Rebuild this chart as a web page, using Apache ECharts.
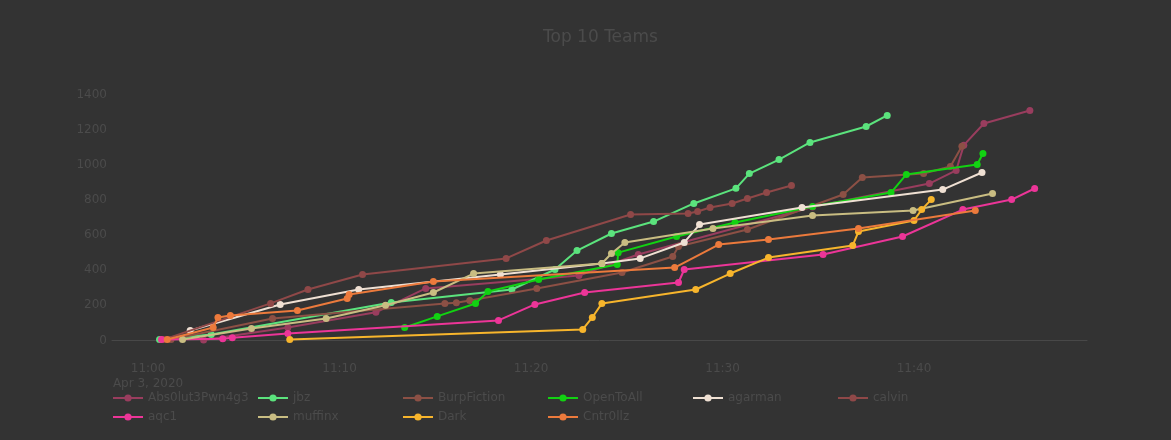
<!DOCTYPE html>
<html>
<head>
<meta charset="utf-8">
<script src="https://cdn.jsdelivr.net/npm/echarts@6/dist/echarts.min.js"></script>
<style>
html,body{margin:0;padding:0;background:#333333;}
#chart{width:1171px;height:440px;}
</style>
</head>
<body>
<div id="chart"></div>
<script>
// ---- data ----
const teamNames = ["Abs0lut3Pwn4g3","jbz","BurpFiction","OpenToAll","agarman","calvin","aqc1","muffinx","Dark","Cntr0llz"];
const teamColors = ["#993d5e","#5be37d","#8c5045","#12d212","#efe0d3","#8f4848","#ec3598","#c9bd82","#f7b52c","#ec7a3c"];

const abs0lut3Times = ["11:02:54","11:07:18","11:11:54","11:14:30","11:22:30","11:25:36","11:34:42","11:40:48","11:42:12","11:42:36","11:43:39","11:46:03"];
const abs0lut3Scores = [3,74,160,296,370,489,760,893,968,1112,1235,1309];

const jbzTimes = ["11:00:36","11:03:18","11:12:42","11:19:00","11:21:15","11:22:24","11:24:12","11:26:24","11:28:30","11:30:42","11:31:24","11:32:57","11:34:34","11:37:30","11:38:36"];
const jbzScores = [5,34,216,290,404,512,609,677,780,866,950,1030,1127,1218,1281];

const burpTimes = ["11:01:12","11:06:30","11:15:30","11:16:06","11:16:48","11:20:18","11:24:45","11:27:24","11:27:42","11:31:18","11:36:18","11:37:18","11:40:30","11:41:54","11:42:30"];
const burpScores = [5,125,210,215,228,296,387,478,535,632,831,928,950,990,1105];

const openTimes = ["11:13:24","11:15:06","11:17:06","11:17:45","11:20:24","11:24:30","11:24:33","11:27:36","11:30:39","11:34:42","11:38:48","11:39:36","11:43:18","11:43:36"];
const openScores = [74,137,210,279,347,432,500,592,672,763,842,945,1002,1064];

const agarmanTimes = ["11:02:12","11:06:54","11:11:00","11:18:24","11:23:42","11:25:42","11:28:00","11:28:48","11:34:09","11:41:30","11:43:33"];
const agarmanScores = [57,205,290,376,438,467,558,660,757,859,956];

const calvinTimes = ["11:00:48","11:06:24","11:08:21","11:11:12","11:18:42","11:20:48","11:25:12","11:28:12","11:28:42","11:29:21","11:30:30","11:31:18","11:32:18","11:33:36"];
const calvinScores = [5,211,290,376,467,569,717,723,734,757,780,808,842,882];

const aqc1Times = ["11:00:42","11:03:54","11:04:24","11:07:18","11:18:18","11:20:12","11:22:48","11:27:42","11:28:00","11:35:15","11:39:24","11:42:33","11:45:06","11:46:18"];
const aqc1Scores = [5,10,15,40,114,205,273,330,404,489,592,745,802,865];

const muffinxTimes = ["11:01:48","11:05:24","11:09:18","11:12:24","11:14:54","11:17:00","11:23:42","11:24:12","11:24:54","11:29:30","11:34:42","11:39:57","11:44:06"];
const muffinxScores = [6,68,125,200,273,381,438,495,558,637,711,740,837];

const darkTimes = ["11:07:24","11:22:42","11:23:12","11:23:42","11:28:36","11:30:24","11:32:24","11:36:48","11:37:06","11:40:00","11:40:24","11:40:54"];
const darkScores = [5,63,131,211,290,381,472,541,620,683,745,802];

const cntrTimes = ["11:01:00","11:03:24","11:03:39","11:04:18","11:07:48","11:10:24","11:10:30","11:14:54","11:27:30","11:29:48","11:32:24","11:37:06","11:43:12"];
const cntrScores = [5,74,131,142,171,239,262,336,415,546,575,637,740];

const dateLabel = "Apr 3, 2020";

// ---- build ----
const allTimes = [abs0lut3Times,jbzTimes,burpTimes,openTimes,agarmanTimes,calvinTimes,aqc1Times,muffinxTimes,darkTimes,cntrTimes];
const allScores = [abs0lut3Scores,jbzScores,burpScores,openScores,agarmanScores,calvinScores,aqc1Scores,muffinxScores,darkScores,cntrScores];

function toMin(s){const p=s.split(':').map(Number);return p[0]*60+p[1]+(p[2]||0)/60;}
function fmt(m){const h=Math.floor(m/60);const mm=Math.round(m-h*60);return h+':'+(mm<10?'0':'')+mm;}

const txt = '#4b4b4b';
const font = 'DejaVu Sans, Verdana, sans-serif';

const series = teamNames.map((n,i)=>({
  name:n, type:'line',
  data: allTimes[i].map((t,j)=>[toMin(t), allScores[i][j]]),
  symbol:'circle', symbolSize:7,
  lineStyle:{width:2,color:teamColors[i]},
  itemStyle:{color:teamColors[i]},
  emphasis:{disabled:true},
  z:2+i
}));

const colLeft=[112,257,402,547,692,837];
const rowTop=[392,411];
const legends = teamNames.map((n,i)=>({
  show:true, data:[n], orient:'horizontal',
  left: colLeft[i<6?i:i-6], top: rowTop[i<6?0:1],
  padding:0, itemWidth:30, itemHeight:9, itemGap:0,
  textStyle:{color:txt,fontSize:12,fontFamily:font},
  selectedMode:false
}));

const chart = echarts.init(document.getElementById('chart'),null,{renderer:'canvas'});
chart.setOption({
  backgroundColor:'#333333',
  animation:false,
  title:{text:'Top 10 Teams',left:538,top:24,textStyle:{color:txt,fontSize:17,fontWeight:'normal',fontFamily:font}},
  legend: legends,
  grid:{left:112,right:84,top:84,bottom:89,containLabel:false},
  xAxis:{type:'value',min:toMin("10:58:07"),max:toMin("11:49:02"),splitNumber:5,
    axisLine:{show:true,onZero:true,lineStyle:{color:'#484848',width:1}},
    axisTick:{show:false},splitLine:{show:false},
    axisLabel:{showMinLabel:false,showMaxLabel:false,margin:10,color:txt,fontSize:12,fontFamily:font,lineHeight:15,
      formatter:function(v){if(Math.abs(v%10)>1e-6)return '';const s=fmt(v);return v===660? s+'\n'+dateLabel : s;}}
  },
  yAxis:{type:'value',min:-60,max:1460,splitNumber:8,
    axisLine:{show:false},axisTick:{show:false},splitLine:{show:false},
    axisLabel:{showMinLabel:false,showMaxLabel:false,margin:5,color:txt,fontSize:12,fontFamily:font,
      formatter:function(v){return (v%200===0)?String(v):'';}}
  },
  series:series
});
</script>
</body>
</html>
